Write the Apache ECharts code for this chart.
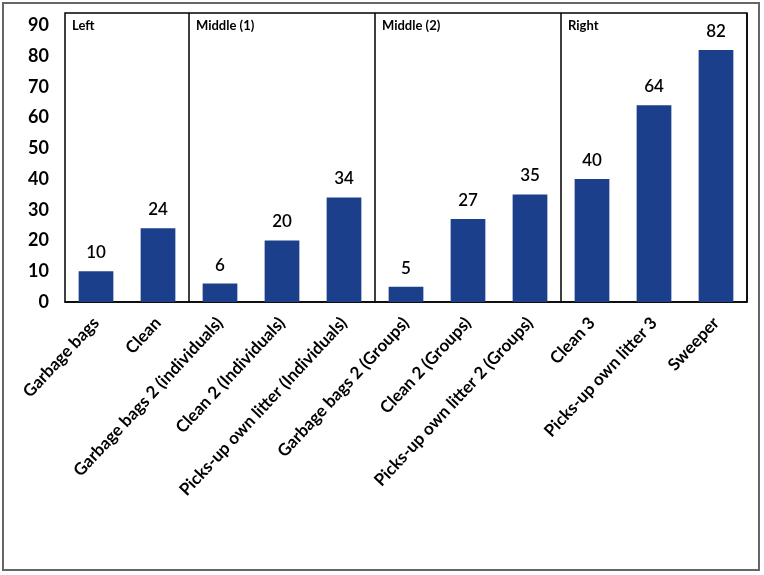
<!DOCTYPE html>
<html><head><meta charset="utf-8">
<script src="https://cdn.jsdelivr.net/npm/echarts@6/dist/echarts.min.js"></script>
<style>html,body{margin:0;padding:0;background:#fff}#c{width:764px;height:575px}</style>
</head><body><div id="c"></div>
<script>
const categories = ["Garbage bags","Clean","Garbage bags 2 (individuals)","Clean 2 (Individuals)","Picks-up own litter (Individuals)","Garbage bags 2 (Groups)","Clean 2 (Groups)","Picks-up own litter 2 (Groups)","Clean 3","Picks-up own litter 3","Sweeper"];
const values = [10,24,6,20,34,5,27,35,40,64,82];
const panelNames = ["Left","Middle (1)","Middle (2)","Right"];
const panelStarts = [0,2,5,8];
const yTicks = [0,10,20,30,40,50,60,70,80,90];

const G = {left:65, right:17, top:13, bottom:273};
const chart = echarts.init(document.getElementById('c'));
const plotW = 764 - G.left - G.right;
const band = plotW / categories.length;
const font = "Lato, 'Open Sans', sans-serif";

chart.setOption({
  animation:false,
  grid:{left:G.left,right:G.right,top:G.top,bottom:G.bottom,show:true,borderColor:'#000',borderWidth:1.5,containLabel:false},
  xAxis:{type:'category',data:categories,
    axisLine:{show:true,lineStyle:{color:'#000',width:1.5}},
    axisTick:{show:false},
    splitLine:{show:true,interval:(i)=>panelStarts.indexOf(i)>0,lineStyle:{color:'#000',width:1.5}},
    axisLabel:{rotate:47,interval:0,color:'#000',fontFamily:font,fontWeight:'bold',fontSize:17,margin:18}},
  yAxis:{type:'value',min:0,max:94,interval:10,
    axisLine:{show:false},axisTick:{show:false},splitLine:{show:false},
    axisLabel:{color:'#000',fontFamily:font,fontWeight:'bold',fontSize:18,margin:16,showMaxLabel:false,
      formatter:(v)=>yTicks.indexOf(v)>=0?String(v):''}},
  series:[{type:'bar',data:values,barCategoryGap:'44%',
    itemStyle:{color:'#1c3f8c'},
    label:{show:true,position:'top',distance:10,color:'#000',fontFamily:font,fontSize:17,fontWeight:600}}],
  graphic:[
    {type:'rect',shape:{x:3,y:3,width:756,height:567},style:{fill:'none',stroke:'#666',lineWidth:2},silent:true},
    ...panelNames.map((n,i)=>({type:'text',left:G.left+panelStarts[i]*band+7,top:G.top+6,
      style:{text:n,fill:'#000',font:"bold 13px "+font}}))
  ]
});
</script></body></html>
